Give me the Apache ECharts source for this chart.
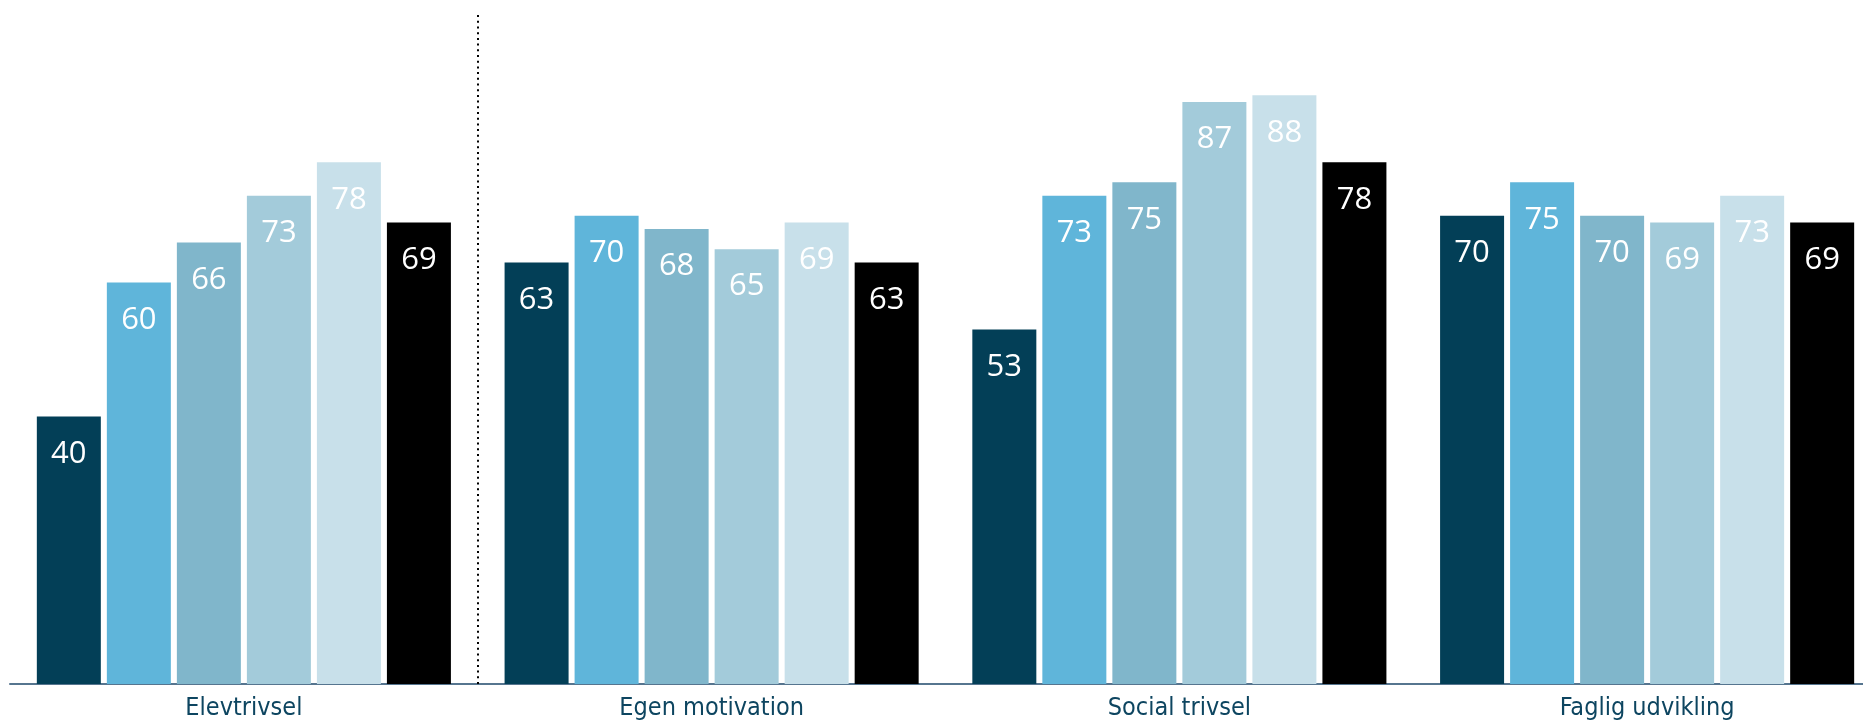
<!DOCTYPE html>
<html>
<head>
<meta charset="utf-8">
<script src="https://cdn.jsdelivr.net/npm/echarts@6/dist/echarts.min.js"></script>
<style>
html,body{margin:0;padding:0;background:#fff;overflow:hidden;}
#chart{width:1863px;height:721px;}
</style>
</head>
<body>
<div id="chart"></div>
<script>
const categories = ["Elevtrivsel", "Egen motivation", "Social trivsel", "Faglig udvikling"];
const seriesNames = ["Serie 1", "Serie 2", "Serie 3", "Serie 4", "Serie 5", "Serie 6"];
const s1 = [40, 63, 53, 70];
const s2 = [60, 70, 73, 75];
const s3 = [66, 68, 75, 70];
const s4 = [73, 65, 87, 69];
const s5 = [78, 69, 88, 73];
const s6 = [69, 63, 78, 69];
const seriesValues = [s1, s2, s3, s4, s5, s6];
const dividerAfter = [1]; // dotted divider after the first category
const colors = ["#033f57", "#5fb5da", "#80b6cb", "#a3cbda", "#c8e0ea", "#000000"];

const chart = echarts.init(document.getElementById('chart'), null, {renderer: 'canvas'});
const series = seriesValues.map((vals, i) => ({
  name: seriesNames[i],
  type: 'bar',
  data: vals,
  barWidth: 64,
  barGap: '9.4%',
  itemStyle: {color: colors[i]},
  label: {
    show: true,
    position: 'insideTop',
    distance: 22,
    color: '#fff',
    fontFamily: 'Open Sans',
    fontSize: 31
  }
}));
series.push({
  name: 'divider',
  type: 'scatter',
  xAxisIndex: 1,
  data: [],
  silent: true,
  markLine: {
    silent: true,
    symbol: ['none', 'none'],
    label: {show: false},
    lineStyle: {color: '#000', width: 2, type: [2, 3.7]},
    data: dividerAfter.map(v => ({xAxis: v}))
  }
});

chart.setOption({
  animation: false,
  grid: {left: 10, right: -18, top: 15, bottom: 37, containLabel: false, outerBoundsMode: 'none'},
  xAxis: [{
    type: 'category',
    data: categories,
    axisLine: {show: true, lineStyle: {color: '#56758f', width: 2}},
    axisTick: {show: false},
    axisLabel: {color: '#0d4560', fontFamily: 'DejaVu Sans Condensed', fontSize: 25, margin: 12},
    splitLine: {show: false}
  }, {
    type: 'value', min: 0, max: categories.length, show: false,
    splitLine: {show: false}
  }],
  yAxis: {
    type: 'value', min: 0, max: 100,
    show: false,
    splitLine: {show: false}
  },
  series: series
});
</script>
</body>
</html>
